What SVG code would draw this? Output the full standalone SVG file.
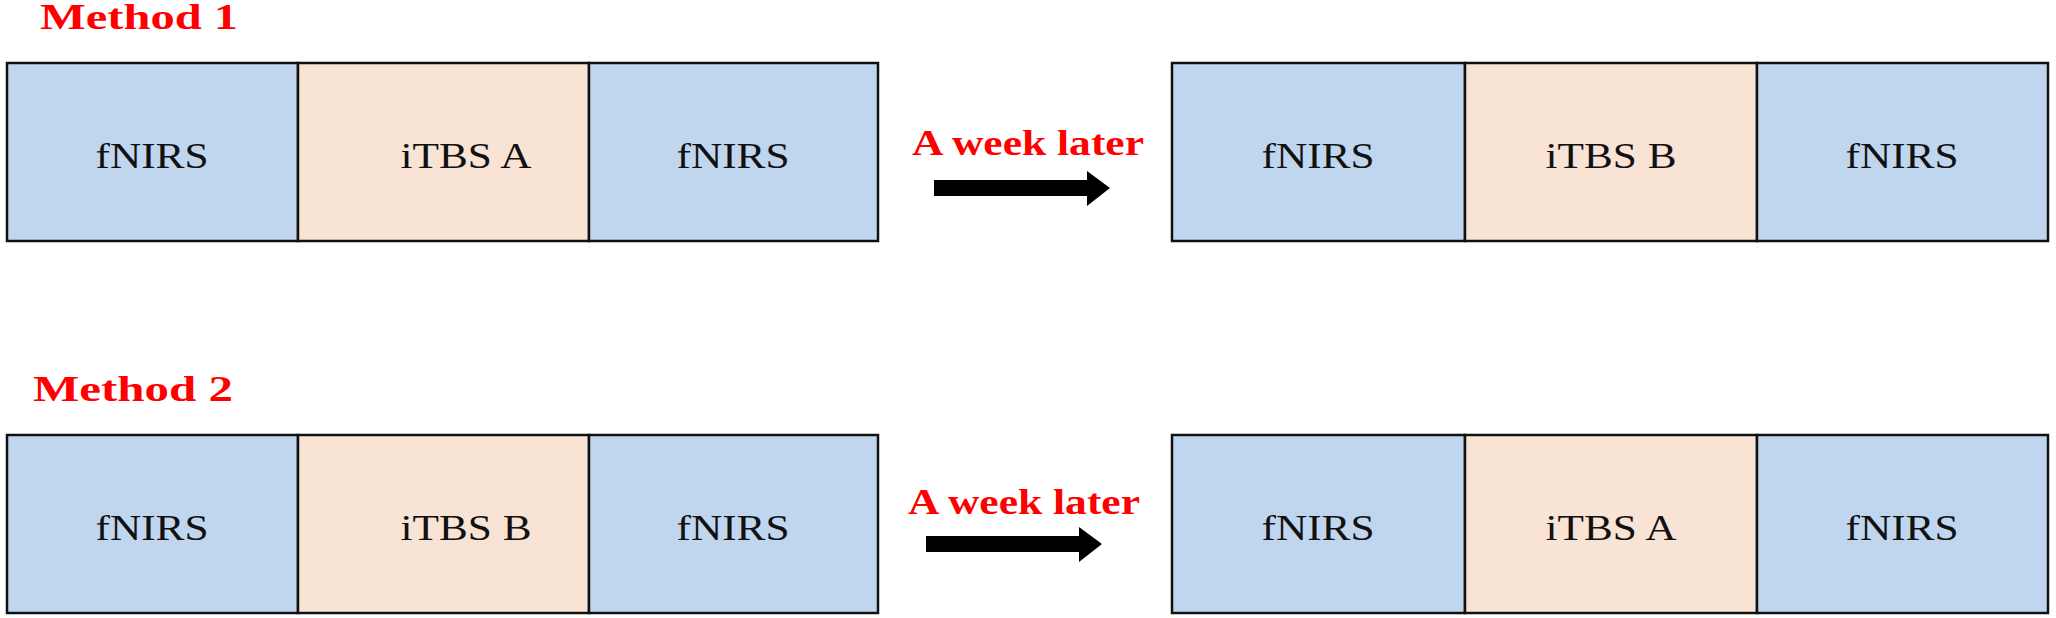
<svg xmlns="http://www.w3.org/2000/svg" width="2056" height="618" viewBox="0 0 2056 618">
<style>
.b{fill:#c0d6ee;stroke:#111;stroke-width:2.5}
.p{fill:#f8e3d5;stroke:#111;stroke-width:2.5}
.t{font-family:"Liberation Serif",serif;font-size:36px;fill:#111;text-anchor:middle}
.r{font-family:"Liberation Serif",serif;font-weight:bold;font-size:35px;fill:#ff0000}
</style>
<rect width="2056" height="618" fill="#fff"/>
<text class="r" x="40" y="29" textLength="198" lengthAdjust="spacingAndGlyphs">Method 1</text>
<text class="r" x="33" y="401" textLength="200" lengthAdjust="spacingAndGlyphs">Method 2</text>
<g id="r1a"><rect class="b" x="7" y="63" width="291" height="178"/><text class="t" x="152" y="168" textLength="113" lengthAdjust="spacingAndGlyphs">fNIRS</text></g>
<g id="r1b"><rect class="p" x="298" y="63" width="291" height="178"/><text class="t" x="466" y="168" textLength="131" lengthAdjust="spacingAndGlyphs">iTBS A</text></g>
<g id="r1c"><rect class="b" x="589" y="63" width="289" height="178"/><text class="t" x="733" y="168" textLength="113" lengthAdjust="spacingAndGlyphs">fNIRS</text></g>
<g id="r1d"><rect class="b" x="1172" y="63" width="293" height="178"/><text class="t" x="1318" y="168" textLength="113" lengthAdjust="spacingAndGlyphs">fNIRS</text></g>
<g id="r1e"><rect class="p" x="1465" y="63" width="292" height="178"/><text class="t" x="1611" y="168" textLength="131" lengthAdjust="spacingAndGlyphs">iTBS B</text></g>
<g id="r1f"><rect class="b" x="1757" y="63" width="291" height="178"/><text class="t" x="1902" y="168" textLength="113" lengthAdjust="spacingAndGlyphs">fNIRS</text></g>
<g id="r2a"><rect class="b" x="7" y="435" width="291" height="178"/><text class="t" x="152" y="540" textLength="113" lengthAdjust="spacingAndGlyphs">fNIRS</text></g>
<g id="r2b"><rect class="p" x="298" y="435" width="291" height="178"/><text class="t" x="466" y="540" textLength="131" lengthAdjust="spacingAndGlyphs">iTBS B</text></g>
<g id="r2c"><rect class="b" x="589" y="435" width="289" height="178"/><text class="t" x="733" y="540" textLength="113" lengthAdjust="spacingAndGlyphs">fNIRS</text></g>
<g id="r2d"><rect class="b" x="1172" y="435" width="293" height="178"/><text class="t" x="1318" y="540" textLength="113" lengthAdjust="spacingAndGlyphs">fNIRS</text></g>
<g id="r2e"><rect class="p" x="1465" y="435" width="292" height="178"/><text class="t" x="1611" y="540" textLength="131" lengthAdjust="spacingAndGlyphs">iTBS A</text></g>
<g id="r2f"><rect class="b" x="1757" y="435" width="291" height="178"/><text class="t" x="1902" y="540" textLength="113" lengthAdjust="spacingAndGlyphs">fNIRS</text></g>
<g id="connectors">
<text class="r" x="912" y="155" textLength="232" lengthAdjust="spacingAndGlyphs">A week later</text>
<polygon points="934,180 1087,180 1087,171 1110,188 1087,206 1087,196 934,196" fill="#000"/>
<text class="r" x="908" y="514" textLength="232" lengthAdjust="spacingAndGlyphs">A week later</text>
<polygon points="926,536 1079,536 1079,527 1102,544 1079,562 1079,552 926,552" fill="#000"/>
</g>
</svg>
